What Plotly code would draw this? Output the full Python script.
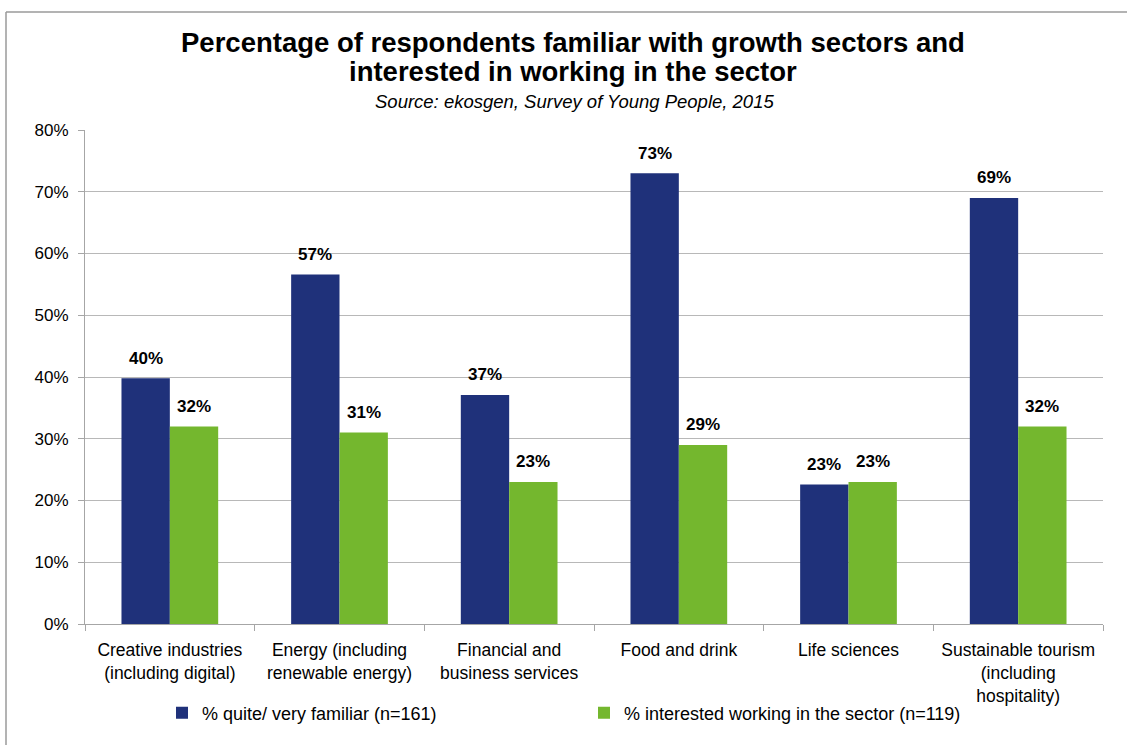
import plotly.graph_objects as go

# Growth sectors and survey results (percent)
sectors = [
    "Creative industries<br>(including digital)",
    "Energy (including<br>renewable energy)",
    "Financial and<br>business services",
    "Food and drink",
    "Life sciences",
    "Sustainable tourism<br>(including<br>hospitality)",
]
familiar = [39.8, 56.6, 37.1, 73.0, 22.6, 69.0]
interested = [32.0, 31.0, 23.0, 29.0, 23.0, 32.0]

familiar_name = "% quite/ very familiar (n=161)"
interested_name = "% interested working in the sector (n=119)"

y_ticks = [0, 10, 20, 30, 40, 50, 60, 70, 80]
y_tick_text = [f"{v}%" for v in y_ticks]

title_lines = [
    "Percentage of respondents familiar with growth sectors and",
    "interested in working in the sector",
]
subtitle = "Source: ekosgen, Survey of Young People, 2015"

NAVY = "#1F317A"
GREEN = "#74B72E"
FONT = "Liberation Sans, Arial, sans-serif"

W, H = 1127, 745
ML, MR, MT, MB = 85, 24, 130, 121
PW, PH = W - ML - MR, H - MT - MB
BARGAP = 0.43


def px_x(px):
    # figure pixel column -> paper x
    return (px - ML) / PW


def px_y(py):
    # figure pixel row (from top) -> paper y
    return (H - MB - py) / PH


fig = go.Figure()
fig.add_trace(go.Bar(
    x=sectors, y=familiar, name=familiar_name,
    marker=dict(color=NAVY, line=dict(width=0)),
))
fig.add_trace(go.Bar(
    x=sectors, y=interested, name=interested_name,
    marker=dict(color=GREEN, line=dict(width=0)),
))

# Value labels above each bar, offset to the bar's slot in its group
half_bar_px = PW / len(sectors) * (1 - BARGAP) / 4
for series, shift in ((familiar, -half_bar_px), (interested, half_bar_px)):
    for cat, val in zip(sectors, series):
        fig.add_annotation(
            x=cat, y=val, xref="x", yref="y",
            text=f"<b>{val:.0f}%</b>", showarrow=False,
            xshift=shift, yshift=20, yanchor="middle",
            font=dict(size=17, family=FONT, color="black"),
        )

fig.update_layout(
    width=W, height=H,
    paper_bgcolor="white", plot_bgcolor="white",
    font=dict(family=FONT, size=17, color="black"),
    margin=dict(l=ML, r=MR, t=MT, b=MB),
    barmode="group", bargap=BARGAP, bargroupgap=0,
    showlegend=True,
    legend=dict(
        orientation="h", x=px_x(162), xanchor="left",
        y=px_y(713), yanchor="middle",
        entrywidth=377, entrywidthmode="pixels",
        font=dict(size=18, family=FONT), itemwidth=30,
        traceorder="normal", bgcolor="rgba(0,0,0,0)",
    ),
)

fig.update_xaxes(
    showline=True, linecolor="#A6A6A6", linewidth=1,
    ticks="outside", tickson="boundaries", ticklen=6, tickcolor="#A6A6A6",
    tickfont=dict(size=17.5, family=FONT), showgrid=False,
    ticklabelstandoff=10,
)
fig.update_yaxes(
    range=[0, 80], tickvals=y_ticks, ticktext=y_tick_text,
    showline=True, linecolor="#A6A6A6", linewidth=1,
    ticks="outside", ticklen=6, tickcolor="#A6A6A6",
    showgrid=True, gridcolor="#B8B8B8", gridwidth=1,
    tickfont=dict(size=17, family=FONT), zeroline=False,
    ticklabelstandoff=6,
)

# Title (two lines) and source line
for line, row in zip(title_lines, (42, 72)):
    fig.add_annotation(
        text=f"<b>{line}</b>",
        x=px_x(573), y=px_y(row), xref="paper", yref="paper",
        xanchor="center", yanchor="middle",
        showarrow=False, font=dict(size=27.5, family=FONT),
    )
fig.add_annotation(
    text=f"<i>{subtitle}</i>",
    x=px_x(574), y=px_y(101), xref="paper", yref="paper",
    xanchor="center", yanchor="middle", showarrow=False,
    font=dict(size=18.5, family=FONT),
)

# Outer frame (left and top edges)
fig.add_shape(
    type="line", xref="paper", yref="paper",
    x0=px_x(6), x1=px_x(6), y0=px_y(H + 5), y1=px_y(12),
    line=dict(color="#9A9A9A", width=1.5),
)
fig.add_shape(
    type="line", xref="paper", yref="paper",
    x0=px_x(6), x1=px_x(W + 5), y0=px_y(12), y1=px_y(12),
    line=dict(color="#9A9A9A", width=1.5),
)

fig.write_html("out.html")
